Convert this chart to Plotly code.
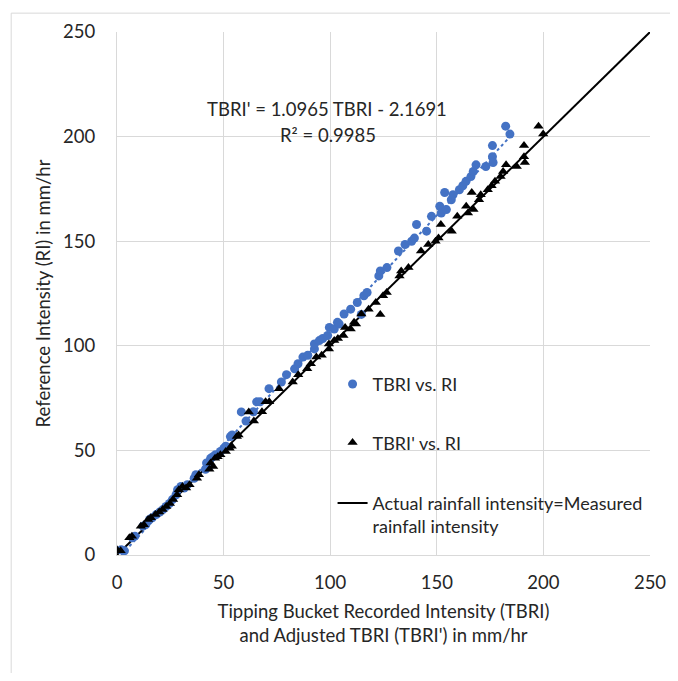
import plotly.graph_objects as go

# Tipping bucket recorded intensity (TBRI), mm/hr
tbri = [2.0, 3.5, 7.3, 8.4, 12.2, 13.5, 15.3, 16.5, 18.4, 20.0,
        21.5, 23.0, 24.6, 26.0, 27.7, 28.4, 30.0, 31.5, 33.0, 36.2,
        37.0, 41.5, 42.0, 43.1, 43.9, 45.0, 46.2, 48.5, 50.1, 51.0,
        53.2, 54.0, 58.3, 60.5, 64.0, 65.5, 67.1, 71.3, 77.1, 79.5,
        83.3, 84.9, 87.2, 89.5, 92.6, 92.6, 94.9, 96.5, 98.8, 99.6,
        101.9, 103.4, 104.2, 106.5, 109.6, 112.7, 114.6, 115.8, 117.3, 122.8,
        123.5, 126.6, 132.0, 135.1, 138.2, 139.5, 140.5, 145.2, 147.5, 151.4,
        152.1, 153.7, 154.5, 156.8, 157.6, 160.6, 162.2, 163.7, 166.0, 167.1,
        168.4, 173.0, 176.1, 176.1, 176.4, 182.3, 184.3]

# Reference intensity (RI), mm/hr
ri = [2.5, 2.0, 8.2, 9.0, 13.8, 14.5, 17.0, 17.8, 19.3, 20.5,
      21.7, 23.2, 24.6, 26.5, 28.8, 31.2, 32.8, 32.0, 33.6, 36.7,
      38.4, 41.0, 44.0, 42.3, 46.2, 47.0, 47.9, 49.5, 51.0, 52.0,
      56.6, 57.4, 68.4, 64.0, 68.5, 73.2, 73.2, 79.5, 82.7, 86.2,
      89.0, 91.4, 94.6, 95.5, 98.5, 100.9, 102.5, 103.5, 104.9, 108.8,
      108.0, 111.2, 110.4, 115.2, 117.5, 120.7, 115.0, 123.9, 125.5, 133.4,
      135.8, 137.4, 145.3, 148.4, 150.0, 151.5, 158.0, 154.8, 161.9, 166.7,
      163.5, 173.3, 165.1, 169.8, 172.2, 174.6, 176.5, 178.6, 180.9, 183.3,
      186.5, 185.7, 190.4, 195.7, 187.6, 205.0, 201.2]

# Adjusted TBRI (TBRI'), mm/hr
tbri_adj = [0.0, 1.7, 5.8, 7.0, 11.2, 12.6, 14.6, 15.9, 18.0, 19.8,
            21.4, 23.1, 24.8, 26.3, 28.2, 29.0, 30.7, 32.4, 34.0, 37.5,
            38.4, 43.3, 43.9, 45.1, 46.0, 47.2, 48.5, 51.0, 52.8, 53.8,
            56.2, 57.0, 61.8, 64.2, 68.0, 69.7, 71.4, 76.0, 82.4, 85.0,
            89.2, 90.9, 93.5, 96.0, 99.4, 99.4, 101.9, 103.6, 106.2, 107.0,
            109.6, 111.2, 112.1, 114.6, 118.0, 121.4, 123.5, 124.8, 126.5, 132.5,
            133.3, 136.7, 142.6, 146.0, 149.4, 150.8, 151.9, 157.0, 159.6, 163.8,
            164.6, 166.4, 167.2, 169.8, 170.6, 173.9, 175.7, 177.3, 179.9, 181.1,
            182.5, 187.5, 190.9, 190.9, 191.3, 197.7, 199.9]

# Trendline coefficients (TBRI' = slope * TBRI + intercept)
slope = 1.0965
intercept = -2.1691
r_squared = 0.9985
trend_x = [-intercept / slope, max(tbri)]
trend_y = [slope * v + intercept for v in trend_x]

# 1:1 line
one_to_one = [0, 250]

tick_vals = [0, 50, 100, 150, 200, 250]

FONT = "Lato"
TXT = "#262626"
BLUE = "#4472C4"
GRID = "#D9D9D9"

# plot area in page pixels (used only to place text / frame)
PL, PR, PT, PB = 117, 656, 28, 555
def px(x):
    return (x - PL) / (PR - PL)
def py(y):
    return (PB - y) / (PB - PT)

fig = go.Figure()

fig.add_trace(go.Scatter(
    x=trend_x, y=trend_y, mode="lines",
    line=dict(color=BLUE, width=2, dash="dot"),
    showlegend=False, hoverinfo="skip"))

fig.add_trace(go.Scatter(
    x=one_to_one, y=one_to_one, mode="lines",
    line=dict(color="black", width=2),
    name="Actual rainfall intensity=Measured<br>rainfall intensity",
    legend="legend3"))

fig.add_trace(go.Scatter(
    x=tbri, y=ri, mode="markers",
    marker=dict(symbol="circle", size=9, color=BLUE),
    name="TBRI vs. RI", legend="legend"))

fig.add_trace(go.Scatter(
    x=tbri_adj, y=ri, mode="markers",
    marker=dict(symbol="triangle-up", size=9, color="black"),
    name="TBRI' vs. RI", legend="legend2"))

leg_common = dict(bgcolor="rgba(0,0,0,0)", font=dict(family=FONT, size=18, color=TXT),
                  xanchor="left", yanchor="middle", x=px(335))

FS = 18.5

fig.update_layout(
    width=670, height=665,
    margin=dict(l=109, r=22, t=20, b=118),
    paper_bgcolor="white", plot_bgcolor="white",
    font=dict(family=FONT, color=TXT, size=FS),
    showlegend=True,
    legend=dict(**leg_common, y=py(383)),
    legend2=dict(**leg_common, y=py(442)),
    legend3=dict(**leg_common, y=py(514.5), valign="top"),
    xaxis=dict(
        range=[0, 250], tickvals=tick_vals, showgrid=True, gridcolor=GRID, gridwidth=1,
        zeroline=False, showline=True, linecolor=GRID, linewidth=1,
        ticks="outside", ticklen=11, tickcolor="rgba(0,0,0,0)",
        tickfont=dict(family=FONT, size=FS, color=TXT),
        title=dict(text="Tipping Bucket Recorded Intensity (TBRI)<br>and Adjusted TBRI (TBRI') in mm/hr",
                   font=dict(family=FONT, size=FS, color=TXT), standoff=12),
    ),
    yaxis=dict(
        range=[0, 250], tickvals=tick_vals, showgrid=True, gridcolor=GRID, gridwidth=1,
        zeroline=False, showline=True, linecolor=GRID, linewidth=1,
        ticks="outside", ticklen=17, tickcolor="rgba(0,0,0,0)",
        tickfont=dict(family=FONT, size=FS, color=TXT),
        title=dict(text="Reference Intensity (RI) in mm/hr",
                   font=dict(family=FONT, size=FS, color=TXT), standoff=7),
    ),
    annotations=[
        dict(text=f"TBRI' = {slope} TBRI - {abs(intercept)}", xref="paper", yref="paper",
             x=px(329), y=py(106), xanchor="center", yanchor="middle",
             showarrow=False, font=dict(family=FONT, size=FS, color=TXT)),
        dict(text=f"R² = {r_squared}", xref="paper", yref="paper",
             x=px(330), y=py(132), xanchor="center", yanchor="middle",
             showarrow=False, font=dict(family=FONT, size=FS, color=TXT)),
    ],
    shapes=[
        dict(type="rect", xref="paper", yref="paper",
             x0=px(10), x1=px(760), y0=py(760), y1=py(9),
             line=dict(color=GRID, width=1), fillcolor="rgba(0,0,0,0)", layer="below"),
    ],
)

fig.write_html("out.html")
